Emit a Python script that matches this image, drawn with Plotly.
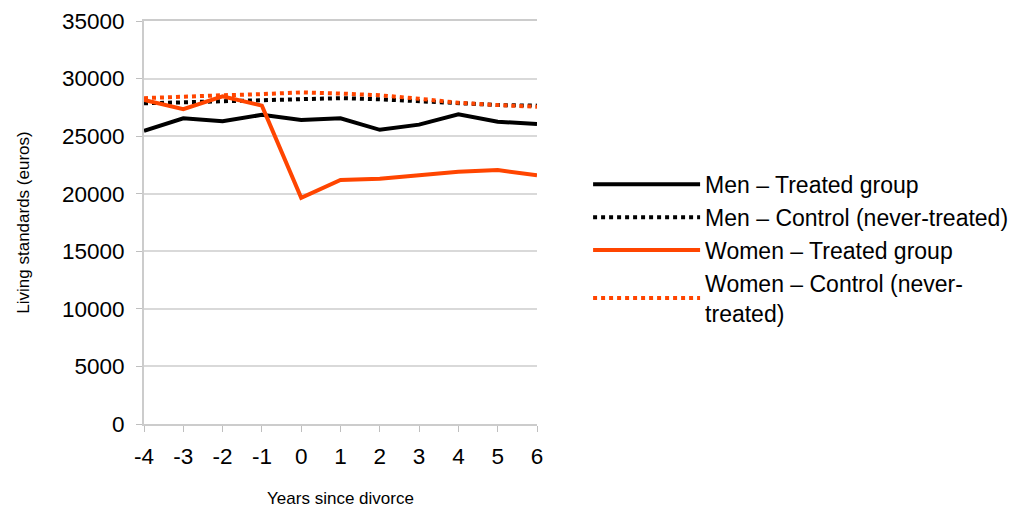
import plotly.graph_objects as go

years = [-4, -3, -2, -1, 0, 1, 2, 3, 4, 5, 6]
year_labels = ["-4", "-3", "-2", "-1", "0", "1", "2", "3", "4", "5", "6"]
men_treated = [25450, 26550, 26300, 26850, 26400, 26550, 25550, 26000, 26900, 26250, 26050]
men_control = [27850, 27950, 28050, 28150, 28250, 28300, 28200, 28050, 27850, 27700, 27650]
women_treated = [28150, 27350, 28450, 27650, 19650, 21200, 21300, 21600, 21900, 22050, 21600]
women_control = [28300, 28450, 28550, 28650, 28800, 28700, 28550, 28250, 27900, 27700, 27550]

names = ["Men – Treated group", "Men – Control (never-treated)",
         "Women – Treated group", "Women – Control (never-<br>treated)"]
series = [men_treated, men_control, women_treated, women_control]
colors = ["#000000", "#000000", "#ff4500", "#ff4500"]
dashes = ["solid", "dot", "solid", "dot"]

fig = go.Figure()
for i in [1, 3, 0, 2]:
    fig.add_trace(go.Scatter(x=years, y=series[i], mode="lines", name=names[i],
                             line=dict(color=colors[i], width=4, dash=dashes[i]),
                             legendrank=i + 1))

font = "Liberation Sans, Arial, sans-serif"
fig.update_layout(
    width=1015, height=502,
    paper_bgcolor="white", plot_bgcolor="white",
    margin=dict(l=136, r=486, t=13, b=86, autoexpand=False),
    font=dict(family=font, size=22, color="#000000"),
    showlegend=True,
    legend=dict(x=1.13, y=0.648, xanchor="left", yanchor="top",
                font=dict(size=23, family=font), itemwidth=107,
                tracegroupgap=0, bgcolor="rgba(0,0,0,0)"),
    xaxis=dict(range=[-4, 6], tickmode="array", tickvals=years, ticktext=year_labels,
               ticks="outside", ticklen=6, tickcolor="#bfbfbf",
               showgrid=False, showline=True, linecolor="#cccccc", linewidth=2,
               mirror=True, zeroline=False, automargin=False,
               ticklabelstandoff=5, ticklabeloverflow="allow",
               title=dict(text="Years since divorce", font=dict(size=17), standoff=24),
               tickfont=dict(size=22.5)),
    yaxis=dict(range=[0, 35000], tickmode="linear", tick0=0, dtick=5000,
               ticks="outside", ticklen=6, tickcolor="#bfbfbf",
               showgrid=True, gridcolor="#d9d9d9", gridwidth=1.5,
               showline=True, linecolor="#cccccc", linewidth=2,
               zeroline=False, tickformat="d", automargin=False,
               ticklabelstandoff=7, ticklabeloverflow="allow",
               title=dict(text="Living standards (euros)", font=dict(size=17), standoff=28),
               tickfont=dict(size=22.5)),
)

fig.write_html("out.html")
